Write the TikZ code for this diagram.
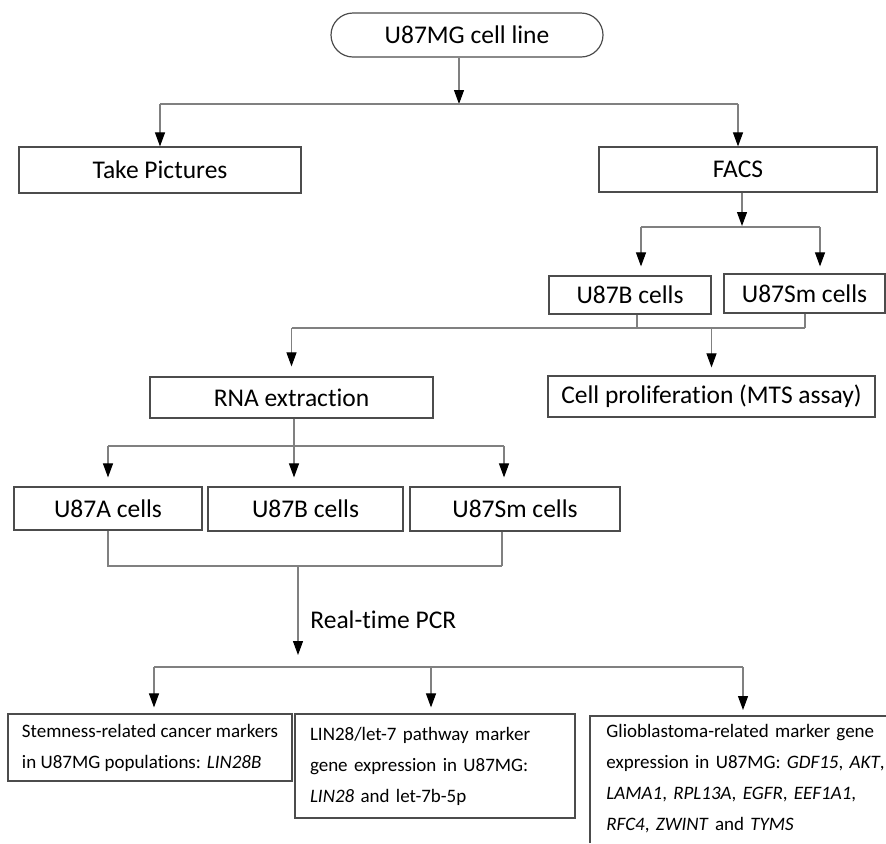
\documentclass[tikz,border=0pt]{standalone}
\usepackage{fontspec}
\setmainfont{Carlito}[Ligatures=NoCommon]
\usepackage{tikz}
\usetikzlibrary{positioning,arrows.meta,shapes.misc}

\tikzset{
  box/.style={draw=black!70,line width=.6pt,inner sep=0pt,font=\fontsize{12.75}{15}\selectfont},
  note/.style={draw=black!70,line width=.6pt,align=left,inner ysep=0pt,font=\fontsize{9.5}{15.5}\selectfont},
  line/.style={draw=black!50,line width=.55pt},
  arr/.style={line,-{Triangle[width=5pt,length=7pt,black]}},
  gap/.style={shorten >=#1},
}

\begin{document}
\begin{tikzpicture}[x=.5pt,y=-.5pt]
  \useasboundingbox (0,0) rectangle (886,843);
  \coordinate (se) at(886,843);
  \node [box,rounded rectangle,minimum width=136pt,minimum height=22pt] at(467,35)(cellline){U87MG cell line};
  \node [box,minimum width=141pt,minimum height=23pt] at(160,170)(pics){Take Pictures};
  \node [box,minimum width=139pt,minimum height=22.5pt] at(738,169.5)(facs){FACS};
  \node [box,minimum width=81pt,minimum height=19pt] at(630,295)(bcells){U87B cells};
  \node [box,minimum width=80.5pt,minimum height=19.5pt] at(804.5,293.5)(smcells){U87Sm cells};
  \node [box,minimum width=141.5pt,minimum height=20.5pt] at(291.5,397.5)(rna){RNA extraction};
  \node [box,minimum width=163.5pt,minimum height=20.5pt] at(711.5,396.5)(prolif){Cell proliferation (MTS assay)};
  \node [box,minimum width=94pt,minimum height=21.5pt] at(108,508.5)(acells2){U87A cells};
  \node [box,minimum width=97.5pt,minimum height=22pt] at(305.5,509)(bcells2){U87B cells};
  \node [box,minimum width=105pt,minimum height=22pt] at(515,509)(smcells2){U87Sm cells};
  \node [anchor=west,inner sep=0pt,font=\fontsize{12.75}{15}\selectfont] at(310,620)(pcr){Real-time PCR};
  \node [note,inner xsep=6pt,minimum width=142pt,minimum height=33.5pt] at(150,747.5)(stem){Stemness-related cancer markers\\in U87MG populations: \textit{LIN28B}};
  \node [note,text width=125pt,inner xsep=7.5pt,minimum height=52pt] at(435,766)(lin){LIN28/let-7 pathway marker\\gene expression in U87MG:\\\textit{LIN28} and let-7b-5p};
  \node [anchor=north west,align=left,text width=160pt,inner xsep=8pt,inner ysep=4pt,font=\fontsize{9.5}{15.5}\selectfont] at(590,716)(glio){Glioblastoma-related marker gene\\expression in U87MG: \textit{GDF15}, \textit{AKT},\\\textit{LAMA1}, \textit{RPL13A}, \textit{EGFR}, \textit{EEF1A1},\\\textit{RFC4}, \textit{ZWINT} and \textit{TYMS}};
  \draw [draw=black!70,line width=.6pt](glio.north west |- se) -- (glio.north west) -- (glio.north west -| se);
  % cell line to pictures and FACS
  \coordinate (j1) at(459,104);
  \draw [arr](cellline.south -| j1) -- (j1);
  \draw [line](pics.north |- j1) -- (facs.north |- j1);
  \draw [arr](pics.north |- j1) -- (pics.north);
  \draw [arr](facs.north |- j1) -- (facs.north);
  % FACS sorting
  \coordinate (j2) at(742,226);
  \coordinate (b2) at(641,227);
  \coordinate (s2) at(820,227);
  \draw [arr](facs.south -| j2) -- (j2);
  \draw [line](b2) -- (s2);
  \draw [arr,gap=4.5pt](b2) -- (b2 |- bcells.north);
  \draw [arr,gap=3.5pt](s2) -- (s2 |- smcells.north);
  % sorted cells
  \coordinate (j3) at(637,328);
  \coordinate (k3) at(805,328);
  \draw [line](bcells.south -| j3) -- (j3);
  \draw [line](smcells.south -| k3) -- (k3);
  \draw [line](rna.north |- j3) -- (k3);
  \draw [arr,gap=5pt](rna.north |- j3) -- (rna.north);
  \draw [arr,gap=4pt](prolif.north |- j3) -- (prolif.north);
  % RNA extraction
  \coordinate (j4) at(294,446);
  \coordinate (k4) at(504,446);
  \draw [line](rna.south -| j4) -- (j4);
  \draw [line](acells2.north |- j4) -- (k4);
  \draw [arr,gap=4.5pt](acells2.north |- j4) -- (acells2.north);
  \draw [arr,gap=4.5pt](j4) -- (j4 |- bcells2.north);
  \draw [arr,gap=4.5pt](k4) -- (k4 |- smcells2.north);
  % real-time PCR
  \coordinate (j5) at(298,566);
  \coordinate (k5) at(502,566);
  \coordinate (j6) at(298,655);
  \draw [line](acells2.south) -- (acells2.south |- j5) -- (k5);
  \draw [line](smcells2.south -| k5) -- (k5);
  \draw [arr](j5) -- (j6);
  \coordinate (i7) at(154,667);
  \coordinate (j7) at(431,667);
  \coordinate (k7) at(743,667);
  \draw [line](i7) -- (k7);
  \draw [arr,gap=3pt](i7) -- (i7 |- stem.north);
  \draw [arr,gap=3pt](j7) -- (j7 |- lin.north);
  \draw [arr,gap=3pt](k7) -- (k7 |- glio.north);
\end{tikzpicture}
\end{document}
